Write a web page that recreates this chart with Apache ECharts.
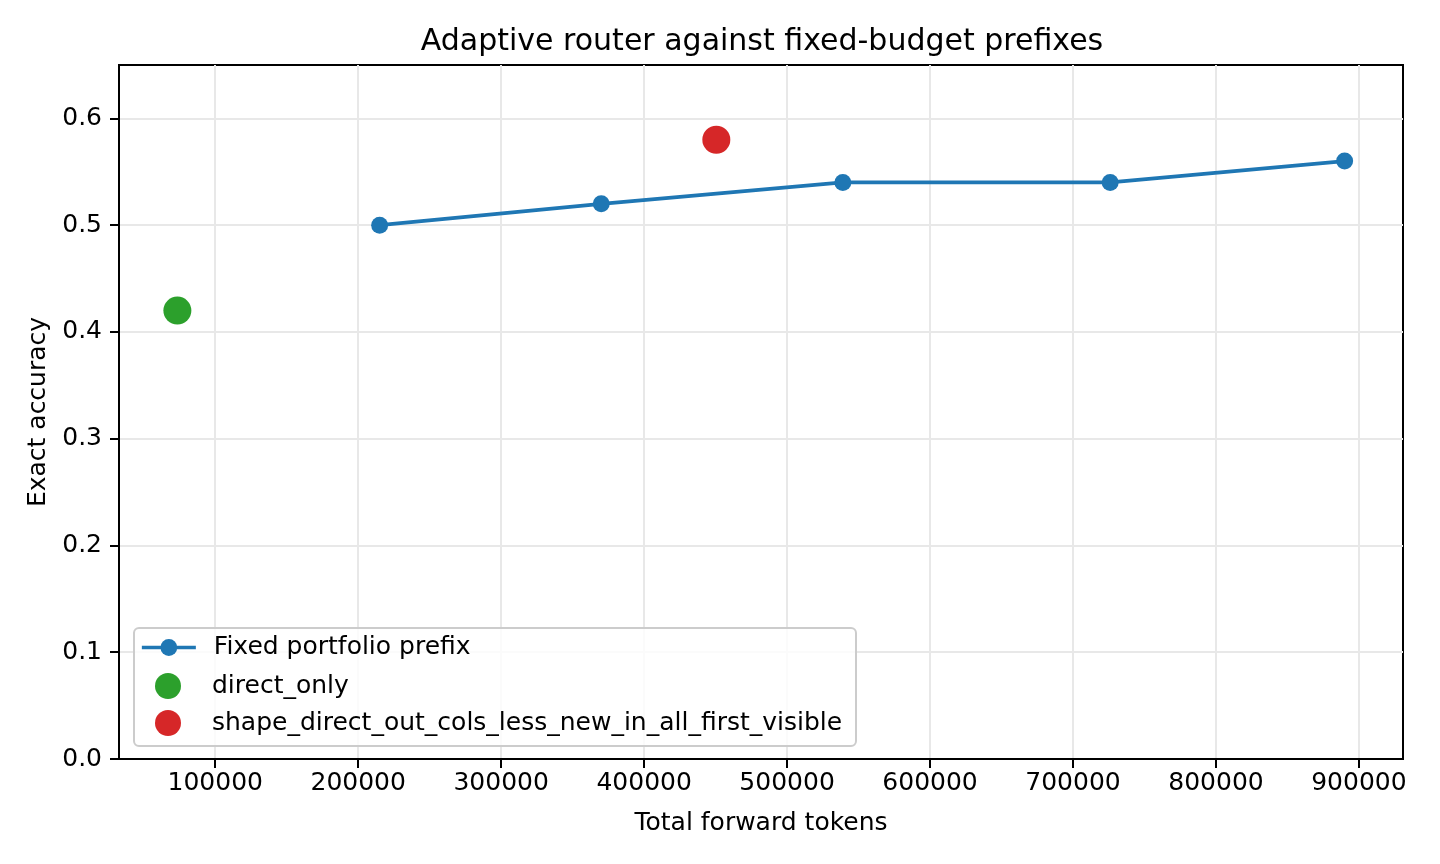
<!DOCTYPE html>
<html>
<head>
<meta charset="utf-8">
<script src="https://cdn.jsdelivr.net/npm/echarts@6/dist/echarts.min.js"></script>
<style>
  html, body { margin: 0; padding: 0; background: #fff; }
  #chart { width: 1440px; height: 864px; }
</style>
</head>
<body>
<div id="chart"></div>
<script>
var prefix_tokens = [215000, 370000, 539000, 726000, 890000];
var prefix_acc = [0.50, 0.52, 0.54, 0.54, 0.56];
var direct_point = [73500, 0.42];
var router_point = [450500, 0.58];
var x_ticks = [100000, 200000, 300000, 400000, 500000, 600000, 700000, 800000, 900000];
var y_ticks = [0, 0.1, 0.2, 0.3, 0.4, 0.5, 0.6];
var font = 'DejaVu Sans';

var prefix_data = prefix_tokens.map(function(t, i) {
  return [t, prefix_acc[i]];
});

// matplotlib style 5% margin around data on x
var x_lo = direct_point[0], x_hi = prefix_tokens[prefix_tokens.length - 1];
var x_pad = (x_hi - x_lo) * 0.05;

var option = {
  backgroundColor: '#fff',
  animation: false,
  title: {
    text: 'Adaptive router against fixed-budget prefixes',
    left: 757, top: 22, textAlign: 'center',
    textStyle: { fontFamily: font, fontSize: 30, fontWeight: 'normal', color: '#000' }
  },
  grid: {
    left: 119, right: 37, top: 65, bottom: 105,
    show: true, borderColor: '#000', borderWidth: 2
  },
  xAxis: {
    type: 'value',
    min: x_lo - x_pad, max: x_hi + x_pad,
    name: 'Total forward tokens', nameLocation: 'middle', nameGap: 52,
    nameTextStyle: { fontFamily: font, fontSize: 25, color: '#000' },
    axisLine: { show: true, onZero: false, lineStyle: { color: '#000', width: 2 } },
    axisTick: { show: true, customValues: x_ticks, length: 9, lineStyle: { color: '#000', width: 2 } },
    axisLabel: { customValues: x_ticks, margin: 12, fontFamily: font, fontSize: 25, color: '#000',
      formatter: function(v) { return String(Math.round(v)); } },
    splitLine: { show: true, lineStyle: { color: '#e8e8e8', width: 2 } }
  },
  yAxis: {
    type: 'value',
    min: 0, max: 0.65,
    name: 'Exact accuracy', nameLocation: 'middle', nameGap: 67,
    nameTextStyle: { fontFamily: font, fontSize: 25, color: '#000' },
    axisLine: { show: true, lineStyle: { color: '#000', width: 2 } },
    axisTick: { show: true, customValues: y_ticks, length: 9, lineStyle: { color: '#000', width: 2 } },
    axisLabel: { customValues: y_ticks, margin: 17, fontFamily: font, fontSize: 25, color: '#000',
      formatter: function(v) { return v.toFixed(1); } },
    splitLine: { show: true, lineStyle: { color: '#e8e8e8', width: 2 } }
  },
  graphic: [{
    type: 'rect', left: 133, top: 627, z: 3,
    shape: { width: 722, height: 118, r: 5 },
    style: { fill: 'rgba(255,255,255,0.8)', stroke: '#cccccc', lineWidth: 2 }
  }],
  legend: [{
    data: ['Fixed portfolio prefix'],
    orient: 'vertical', left: 140, top: 635, padding: 0, z: 5,
    itemWidth: 54, itemHeight: 21,
    lineStyle: { width: 3.7 },
    textStyle: { fontFamily: font, fontSize: 25, color: '#000', padding: [0, 0, 0, 13] }
  }, {
    data: ['direct_only', 'shape_direct_out_cols_less_new_in_all_first_visible'],
    orient: 'vertical', left: 155, top: 673, padding: 0, z: 5,
    itemWidth: 26, itemHeight: 26, itemGap: 11, icon: 'circle',
    textStyle: { fontFamily: font, fontSize: 25, color: '#000', padding: [0, 0, 0, 26] }
  }],
  series: [{
    name: 'Fixed portfolio prefix',
    type: 'line',
    data: prefix_data,
    symbol: 'circle', symbolSize: 17,
    itemStyle: { color: '#1f77b4' },
    lineStyle: { color: '#1f77b4', width: 3.7 }
  }, {
    name: 'direct_only',
    type: 'scatter',
    data: [direct_point],
    symbolSize: 28,
    itemStyle: { color: '#2ca02c', opacity: 1 }
  }, {
    name: 'shape_direct_out_cols_less_new_in_all_first_visible',
    type: 'scatter',
    data: [router_point],
    symbolSize: 28,
    itemStyle: { color: '#d62728', opacity: 1 }
  }]
};

var chart = echarts.init(document.getElementById('chart'));
chart.setOption(option);
</script>
</body>
</html>
